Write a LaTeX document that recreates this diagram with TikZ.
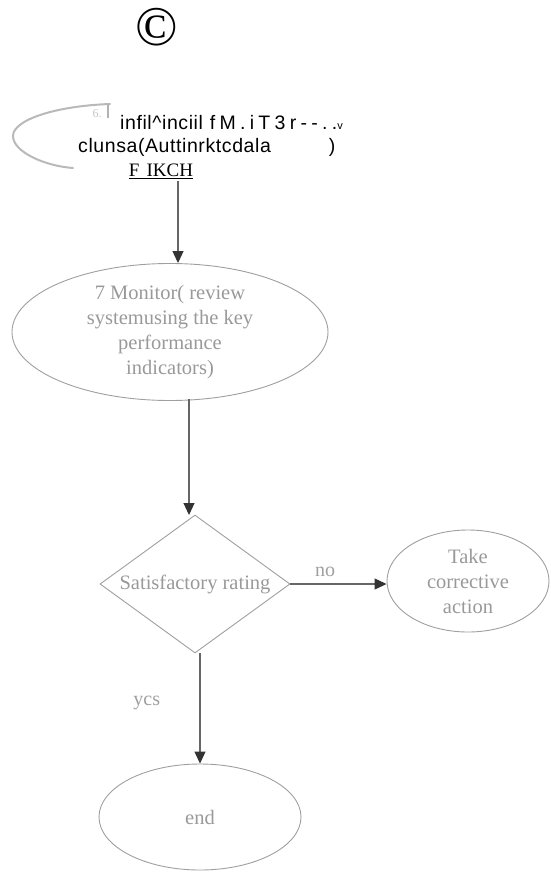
\documentclass[tikz,border=0pt]{standalone}
\usepackage{fontspec}
\setmainfont{Liberation Serif}
\newfontfamily\arialfont{Liberation Sans}[LetterSpace=3]
\usetikzlibrary{shapes.geometric,arrows.meta,positioning,calc}

\begin{document}
\begin{tikzpicture}[x=1pt,y=-1pt,line join=round,
  box/.style={draw=gray!75,line width=.9pt,text=gray!80,align=center,inner sep=0pt,
    font=\fontsize{20.5}{25}\selectfont},
  oval/.style={box,ellipse},
  choice/.style={box,diamond,aspect=1.38},
  flow/.style={draw=black!60,line width=1.1pt,-{Triangle[length=12pt,width=11pt,color=black!80]}},
  lbl/.style={text=gray!75,font=\fontsize{20}{20}\selectfont}]
\useasboundingbox (0,0) rectangle (551,880);
% copyright mark
\node (copy) at (157,27) {\fontsize{56}{56}\selectfont\textcopyright};
% scanned step 6
\draw[gray!55,line width=2pt,line cap=round] (110,104) .. controls (55,106) and (13,120) .. (13,136) .. controls (13,152) and (45,166) .. (73,168);
\draw[gray!60,line width=1.5pt] (108,104) -- (108,118);
\node[text=gray!45,font=\fontsize{12}{12}\selectfont] (six) at (97,114) {6.};
\node[anchor=west,inner sep=0pt,font=\arialfont\fontsize{19.5}{19.5}\selectfont] (l1) at (120,123)
  {infil\textasciicircum inciil\hspace{7pt}{\addfontfeature{LetterSpace=22}fM.iT3r--..}{\fontsize{11}{11}\selectfont v}};
\node[anchor=west,inner sep=0pt,font=\arialfont\fontsize{19.5}{19.5}\selectfont] (l2) at (78,147)
  {clunsa(Auttinrktcdala\hspace{58pt})};
\node[inner sep=0pt,font=\fontsize{19}{19}\selectfont] (fikch) at (161,171) {\underline{F\hspace{7pt}IKCH}};
\coordinate (a1) at (178,181);
% flow chart
\node[oval,minimum width=316pt,minimum height=137pt] (mon) at (170,332)
  {7 Monitor( review\\systemusing the key\\performance\\indicators)};
\node[choice,minimum width=190pt,minimum height=138pt] (dec) at (195,584) {Satisfactory rating};
\node[oval,minimum width=162pt,minimum height=102pt] (act) at (468,581) {Take\\corrective\\action};
\node[oval,minimum width=202pt,minimum height=106pt] (fin) at (200,817) {end};
\draw[flow] (a1) -- (a1 |- mon.north);
\draw[flow] (189,399) -- (189,515);
\draw[flow] (dec.east) -- (dec.east -| act.west) node[lbl,pos=.36,above=3pt] {no};
\draw[flow] (fin.north |- dec.south) -- (fin.north) node[lbl,pos=.45,left=36pt] {ycs};
\end{tikzpicture}
\end{document}
